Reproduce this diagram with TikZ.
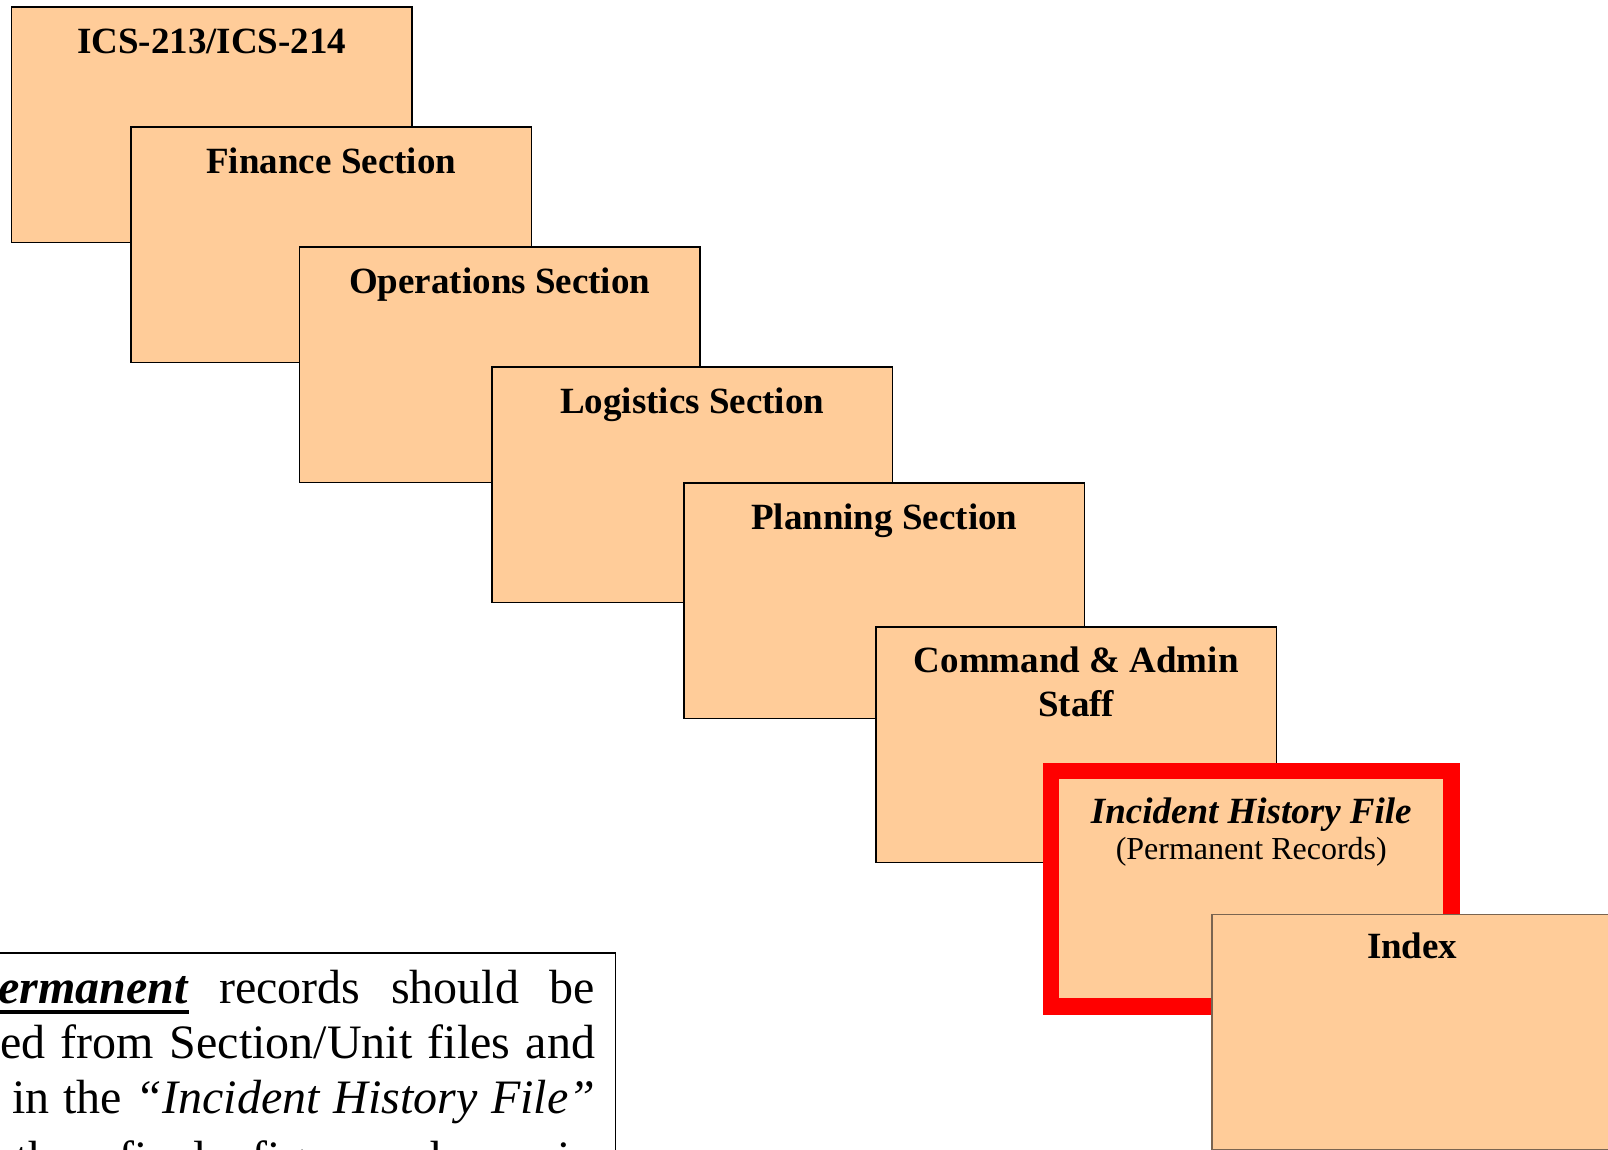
\documentclass[tikz,border=0pt]{standalone}
\usepackage{fontspec}
\setmainfont{Liberation Serif}

\definecolor{peach}{HTML}{FFCC99}
\definecolor{indexedge}{HTML}{7A6450}

\newcommand\cardfont{\fontsize{37pt}{44pt}\selectfont\bfseries}
\newcommand\subfont{\fontsize{32pt}{38pt}\selectfont}
\newcommand\bodyfont{\fontsize{48pt}{55pt}\selectfont}
% heavy underline drawn under a word
\newcommand\thickul[1]{\sbox0{#1}\rlap{\rule[-11pt]{\wd0}{4pt}}\usebox0}

\begin{document}
\begin{tikzpicture}[x=1pt,y=-1pt,
  card/.style={draw=black, line width=1.8pt, fill=peach, anchor=north west,
    minimum width=400.5pt, minimum height=235.5pt, inner sep=0pt, outer sep=0pt},
  cardtitle/.style={anchor=base, inner sep=0pt, font=\cardfont},
  noteline/.style={anchor=base west, inner sep=0pt, font=\bodyfont}]
\useasboundingbox (0,0) rectangle (1608,1149);
\clip (0,0) rectangle (1608,1149);

% stacked file cards
\node[card] (ics) at (11.5,7) {};
\node[cardtitle] (icsT) at ([yshift=-46pt]ics.north) {ICS-213/ICS-214};

\node[card] (fin) at (131,127) {};
\node[cardtitle] (finT) at ([yshift=-46pt]fin.north) {Finance Section};

\node[card] (ops) at (299.5,247) {};
\node[cardtitle] (opsT) at ([yshift=-46pt]ops.north) {Operations Section};

\node[card] (log) at (492,367) {};
\node[cardtitle] (logT) at ([yshift=-46pt]log.north) {Logistics Section};

\node[card] (plan) at (684,483) {};
\node[cardtitle] (planT) at ([yshift=-46pt]plan.north) {Planning Section};

\node[card] (cmd) at (876,627) {};
\node[cardtitle] (cmdT) at ([yshift=-45pt]cmd.north) {Command \& Admin};
\node[cardtitle] (cmdT2) at ([yshift=-89pt]cmd.north) {Staff};

% highlighted permanent-record file
\node[card, draw=red, line width=16.5pt] (ihf) at (1051,771) {};
\node[cardtitle, font=\cardfont\itshape] (ihfT) at ([yshift=-52pt]ihf.north) {Incident History File};
\node[cardtitle, font=\subfont] (ihfS) at ([yshift=-88pt]ihf.north) {(Permanent Records)};

\node[card, draw=indexedge, line width=1.5pt] (index) at (1212,914.7) {};
\node[cardtitle] (indexT) at ([yshift=-44pt]index.north) {Index};

% explanatory note
\node[draw=black, line width=1.5pt, fill=white, anchor=north east,
  minimum width=700pt, minimum height=300pt, inner sep=0pt] (note) at (616,952) {};
\node[noteline] (n1) at (-2,1003)
  {\makebox[597pt][s]{\thickul{\textbf{\textit{ermanent}}} records should be}};
\node[noteline] (n2) at (0,1058)
  {\makebox[595pt][s]{ed from Section/Unit files and}};
\node[noteline] (n3) at (12,1113)
  {\makebox[583pt][s]{in the \textit{“Incident History File”}}};
\node[noteline] (n4) at (15,1174)
  {\makebox[580pt][s]{the final figures here in}};
\end{tikzpicture}
\end{document}
